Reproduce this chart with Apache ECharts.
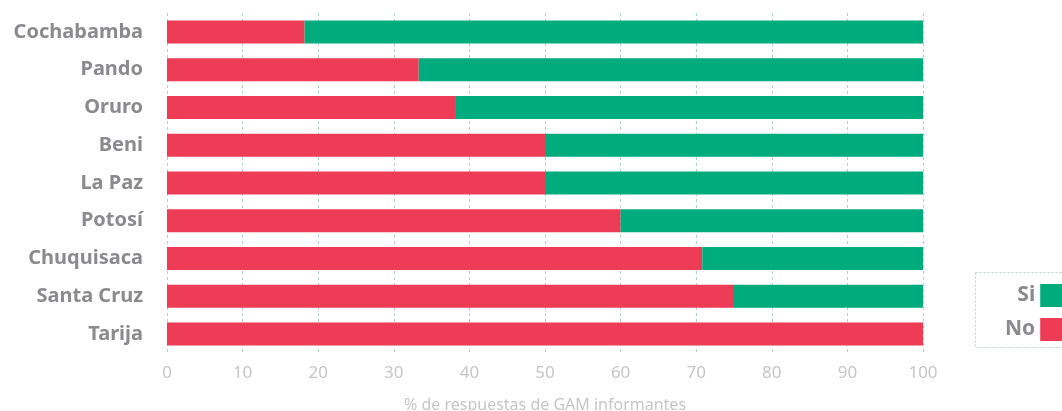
<!DOCTYPE html>
<html>
<head>
<meta charset="utf-8">
<script src="https://cdn.jsdelivr.net/npm/echarts@6/dist/echarts.min.js"></script>
<style>
  html, body { margin: 0; padding: 0; background: #fff; }
  #main { width: 1062px; height: 411px; }
</style>
</head>
<body>
<div id="main"></div>
<script>
// departamentos, de arriba hacia abajo
const categories = ['Cochabamba', 'Pando', 'Oruro', 'Beni', 'La Paz', 'Potosí', 'Chuquisaca', 'Santa Cruz', 'Tarija']
// % de respuestas "No"
const noValues = [18.2, 33.3, 38.1, 50, 50, 60, 70.8, 75, 100]
// % de respuestas "Si"
const siValues = [81.8, 66.7, 61.9, 50, 50, 40, 29.2, 25, 0]

const red = '#ee3c56'
const green = '#00ac7c'
const gray = '#8a8a8f'

const myChart = echarts.init(document.getElementById('main'))

const option = {
  animation: false,
  textStyle: { fontFamily: 'Noto Sans' },
  grid: { left: 167, right: 139, top: 13, bottom: 58, containLabel: false, outerBoundsMode: 'none' },
  legend: {
    data: ['Si', 'No'],
    orient: 'vertical',
    left: 1000,
    top: 279,
    align: 'right',
    itemWidth: 22,
    itemHeight: 23,
    itemGap: 11,
    icon: 'rect',
    selectedMode: false,
    textStyle: { color: gray, fontSize: 21, fontWeight: 'bold', width: 33, align: 'right' }
  },
  graphic: [{
    type: 'rect',
    left: 973,
    top: 270,
    shape: { width: 120, height: 75 },
    style: { fill: 'none', stroke: '#b9d2ce', lineWidth: 1, lineDash: [2, 2] },
    silent: true
  }],
  xAxis: {
    type: 'value',
    min: 0,
    max: 100,
    interval: 10,
    name: '% de respuestas de GAM informantes',
    nameLocation: 'middle',
    nameGap: 44,
    nameTextStyle: { color: '#c6c6c6', fontSize: 16 },
    axisLine: { show: false },
    axisTick: { show: false },
    axisLabel: { color: '#c6c6c6', fontSize: 17, margin: 12 },
    splitLine: { show: true, lineStyle: { color: '#b5cfca', type: [3, 3], width: 1 } }
  },
  yAxis: {
    type: 'category',
    inverse: true,
    data: categories,
    axisLine: { show: false },
    axisTick: { show: false },
    axisLabel: { color: gray, fontSize: 20, fontWeight: 'bold', margin: 24 }
  },
  series: [
    {
      name: 'No',
      type: 'bar',
      stack: 'total',
      barWidth: 23,
      itemStyle: { color: red },
      data: noValues
    },
    {
      name: 'Si',
      type: 'bar',
      stack: 'total',
      barWidth: 23,
      itemStyle: { color: green },
      data: siValues
    }
  ]
}

myChart.setOption(option)
window.onresize = () => {
  myChart.resize()
}
</script>
</body>
</html>
